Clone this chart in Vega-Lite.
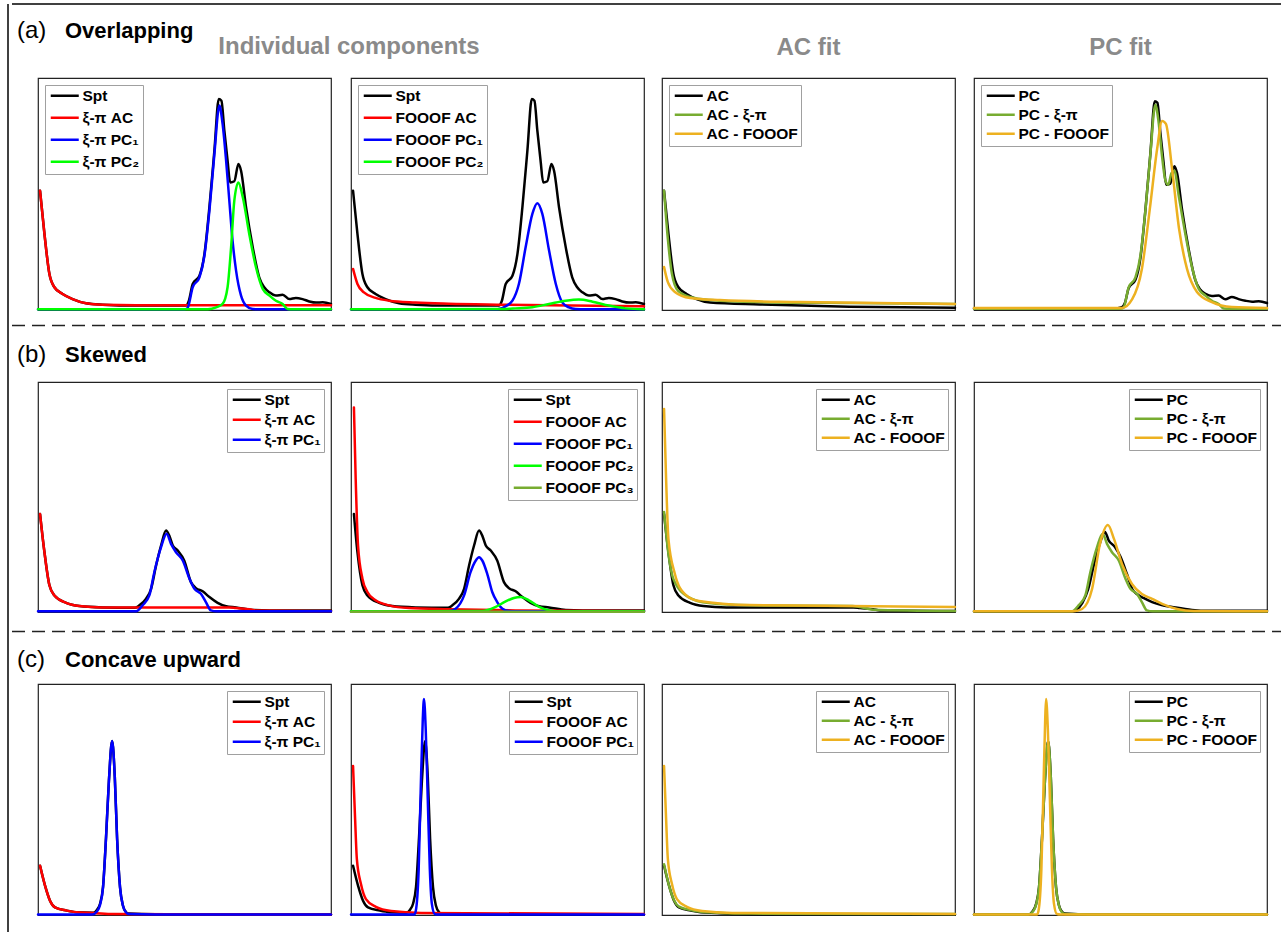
{
  "$schema": "https://vega.github.io/schema/vega-lite/v6.json",
  "background": "white",
  "padding": {"left": 7, "top": 3, "right": 0, "bottom": 0},
  "config": {
    "font": "Liberation Sans",
    "view": {"stroke": "#222222", "strokeWidth": 1.2},
    "title": {"font": "Liberation Sans", "fontSize": 22, "color": "#000000"},
    "line": {"strokeWidth": 2.5, "interpolate": "monotone", "strokeJoin": "round", "strokeCap": "round"},
    "rule": {"strokeCap": "butt"},
    "legend": {
      "title": null,
      "symbolType": "M-1,0H4.6",
      "symbolStrokeWidth": 2.5,
      "symbolSize": 100,
      "labelFont": "Liberation Sans",
      "labelFontWeight": "bold",
      "labelFontSize": 15.5,
      "labelColor": "#000000",
      "labelOffset": 19,
      "rowPadding": 2,
      "padding": 3,
      "strokeColor": "#a0a0a0",
      "fillColor": "white",
      "offset": 7
    }
  },
  "datasets": {
    "a1": [
      {"s":"Spt","x":0.7,"y":51.4},{"s":"Spt","x":2.2,"y":32.8},{"s":"Spt","x":3.9,"y":15.5},{"s":"Spt","x":5.6,"y":9.8},{"s":"Spt","x":8.4,"y":6.9},{"s":"Spt","x":11.8,"y":4.7},{"s":"Spt","x":16.4,"y":2.9},{"s":"Spt","x":22,"y":2.3},{"s":"Spt","x":33.4,"y":1.9},{"s":"Spt","x":50.5,"y":1.9},{"s":"Spt","x":51.5,"y":4},{"s":"Spt","x":52.8,"y":11.2},{"s":"Spt","x":55.1,"y":14.8},{"s":"Spt","x":56.8,"y":24.1},{"s":"Spt","x":58.5,"y":44.3},{"s":"Spt","x":60.2,"y":68.7},{"s":"Spt","x":61.7,"y":90.9},{"s":"Spt","x":62.6,"y":90.2},{"s":"Spt","x":63.6,"y":77.3},{"s":"Spt","x":64.7,"y":64.4},{"s":"Spt","x":65.6,"y":55},{"s":"Spt","x":67,"y":55.5},{"s":"Spt","x":68.4,"y":62.9},{"s":"Spt","x":69.3,"y":60},{"s":"Spt","x":71,"y":44.3},{"s":"Spt","x":73.3,"y":27},{"s":"Spt","x":75.5,"y":14.1},{"s":"Spt","x":77.2,"y":9.8},{"s":"Spt","x":79,"y":7.6},{"s":"Spt","x":81.2,"y":6.2},{"s":"Spt","x":83.5,"y":6.6},{"s":"Spt","x":85.8,"y":4.7},{"s":"Spt","x":88,"y":5.2},{"s":"Spt","x":90.3,"y":4.7},{"s":"Spt","x":92.6,"y":3.7},{"s":"Spt","x":94.9,"y":3.2},{"s":"Spt","x":97.2,"y":3.3},{"s":"Spt","x":100,"y":2.6},
      {"s":"ξ-π AC","x":0.7,"y":51.4},{"s":"ξ-π AC","x":2.2,"y":32.8},{"s":"ξ-π AC","x":3.9,"y":15.5},{"s":"ξ-π AC","x":5.6,"y":9.8},{"s":"ξ-π AC","x":8.4,"y":6.9},{"s":"ξ-π AC","x":11.8,"y":4.7},{"s":"ξ-π AC","x":16.4,"y":2.9},{"s":"ξ-π AC","x":22,"y":2.3},{"s":"ξ-π AC","x":33.4,"y":2.1},{"s":"ξ-π AC","x":60,"y":2.1},{"s":"ξ-π AC","x":100,"y":2.1},
      {"s":"ξ-π PC₁","x":0,"y":0.3},{"s":"ξ-π PC₁","x":50,"y":0.3},{"s":"ξ-π PC₁","x":51,"y":0.8},{"s":"ξ-π PC₁","x":52.8,"y":9.8},{"s":"ξ-π PC₁","x":55.1,"y":14.1},{"s":"ξ-π PC₁","x":56.8,"y":23.4},{"s":"ξ-π PC₁","x":58.5,"y":42.8},{"s":"ξ-π PC₁","x":60.2,"y":67.2},{"s":"ξ-π PC₁","x":61.9,"y":88.1},{"s":"ξ-π PC₁","x":63,"y":80.2},{"s":"ξ-π PC₁","x":64.2,"y":64.4},{"s":"ξ-π PC₁","x":65.3,"y":47.1},{"s":"ξ-π PC₁","x":66.4,"y":29.9},{"s":"ξ-π PC₁","x":67.6,"y":17},{"s":"ξ-π PC₁","x":69.3,"y":6.2},{"s":"ξ-π PC₁","x":71,"y":1.9},{"s":"ξ-π PC₁","x":73.3,"y":0.4},{"s":"ξ-π PC₁","x":76,"y":0.3},{"s":"ξ-π PC₁","x":100,"y":0.3},
      {"s":"ξ-π PC₂","x":0,"y":0.3},{"s":"ξ-π PC₂","x":58,"y":0.3},{"s":"ξ-π PC₂","x":60.8,"y":1.1},{"s":"ξ-π PC₂","x":63,"y":2.6},{"s":"ξ-π PC₂","x":64.7,"y":9.8},{"s":"ξ-π PC₂","x":65.9,"y":27},{"s":"ξ-π PC₂","x":67,"y":47.1},{"s":"ξ-π PC₂","x":68.4,"y":55},{"s":"ξ-π PC₂","x":69.9,"y":48.6},{"s":"ξ-π PC₂","x":72.1,"y":32.8},{"s":"ξ-π PC₂","x":74.4,"y":18.4},{"s":"ξ-π PC₂","x":76.7,"y":9.1},{"s":"ξ-π PC₂","x":79,"y":6.2},{"s":"ξ-π PC₂","x":81.2,"y":4},{"s":"ξ-π PC₂","x":83.5,"y":2.6},{"s":"ξ-π PC₂","x":85.2,"y":0.4},{"s":"ξ-π PC₂","x":87,"y":0.3},{"s":"ξ-π PC₂","x":100,"y":0.3}
    ],
    "a2": [
      {"s":"Spt","x":0.7,"y":51.4},{"s":"Spt","x":2.2,"y":32.8},{"s":"Spt","x":3.9,"y":15.5},{"s":"Spt","x":5.6,"y":9.8},{"s":"Spt","x":8.4,"y":6.9},{"s":"Spt","x":11.8,"y":4.7},{"s":"Spt","x":16.4,"y":2.9},{"s":"Spt","x":22,"y":2.3},{"s":"Spt","x":33.4,"y":1.9},{"s":"Spt","x":50.5,"y":1.9},{"s":"Spt","x":51.5,"y":4},{"s":"Spt","x":52.8,"y":11.2},{"s":"Spt","x":55.1,"y":14.8},{"s":"Spt","x":56.8,"y":24.1},{"s":"Spt","x":58.5,"y":44.3},{"s":"Spt","x":60.2,"y":68.7},{"s":"Spt","x":61.7,"y":90.9},{"s":"Spt","x":62.6,"y":90.2},{"s":"Spt","x":63.6,"y":77.3},{"s":"Spt","x":64.7,"y":64.4},{"s":"Spt","x":65.6,"y":55},{"s":"Spt","x":67,"y":55.5},{"s":"Spt","x":68.4,"y":62.9},{"s":"Spt","x":69.3,"y":60},{"s":"Spt","x":71,"y":44.3},{"s":"Spt","x":73.3,"y":27},{"s":"Spt","x":75.5,"y":14.1},{"s":"Spt","x":77.2,"y":9.8},{"s":"Spt","x":79,"y":7.6},{"s":"Spt","x":81.2,"y":6.2},{"s":"Spt","x":83.5,"y":6.6},{"s":"Spt","x":85.8,"y":4.7},{"s":"Spt","x":88,"y":5.2},{"s":"Spt","x":90.3,"y":4.7},{"s":"Spt","x":92.6,"y":3.7},{"s":"Spt","x":94.9,"y":3.2},{"s":"Spt","x":97.2,"y":3.3},{"s":"Spt","x":100,"y":2.6},
      {"s":"FOOOF AC","x":0.7,"y":17.7},{"s":"FOOOF AC","x":2.2,"y":11.2},{"s":"FOOOF AC","x":4.4,"y":7.6},{"s":"FOOOF AC","x":8.4,"y":5.2},{"s":"FOOOF AC","x":13,"y":4},{"s":"FOOOF AC","x":22,"y":3.2},{"s":"FOOOF AC","x":33.4,"y":2.7},{"s":"FOOOF AC","x":50.5,"y":2.3},{"s":"FOOOF AC","x":67.6,"y":2},{"s":"FOOOF AC","x":100,"y":1.6},
      {"s":"FOOOF PC₁","x":0,"y":0.3},{"s":"FOOOF PC₁","x":50,"y":0.3},{"s":"FOOOF PC₁","x":52.8,"y":1.6},{"s":"FOOOF PC₁","x":55.1,"y":4},{"s":"FOOOF PC₁","x":57.3,"y":11.2},{"s":"FOOOF PC₁","x":59.6,"y":27},{"s":"FOOOF PC₁","x":61.9,"y":41.4},{"s":"FOOOF PC₁","x":63.6,"y":46},{"s":"FOOOF PC₁","x":65.3,"y":41.4},{"s":"FOOOF PC₁","x":67.6,"y":25.6},{"s":"FOOOF PC₁","x":69.9,"y":11.2},{"s":"FOOOF PC₁","x":72.1,"y":3.3},{"s":"FOOOF PC₁","x":74.4,"y":1.1},{"s":"FOOOF PC₁","x":76.7,"y":0.4},{"s":"FOOOF PC₁","x":80,"y":0.3},{"s":"FOOOF PC₁","x":100,"y":0.3},
      {"s":"FOOOF PC₂","x":0,"y":0.3},{"s":"FOOOF PC₂","x":50,"y":0.4},{"s":"FOOOF PC₂","x":56,"y":0.7},{"s":"FOOOF PC₂","x":61.9,"y":1.2},{"s":"FOOOF PC₂","x":67.6,"y":2.6},{"s":"FOOOF PC₂","x":73.3,"y":4},{"s":"FOOOF PC₂","x":77.8,"y":4.5},{"s":"FOOOF PC₂","x":82.4,"y":3.6},{"s":"FOOOF PC₂","x":88,"y":1.9},{"s":"FOOOF PC₂","x":93.7,"y":0.7},{"s":"FOOOF PC₂","x":100,"y":0.3}
    ],
    "a3": [
      {"s":"AC","x":0.7,"y":51.4},{"s":"AC","x":2.2,"y":32.8},{"s":"AC","x":3.9,"y":15.5},{"s":"AC","x":5.6,"y":9.8},{"s":"AC","x":8.4,"y":6.9},{"s":"AC","x":11.8,"y":4.7},{"s":"AC","x":16.4,"y":3.2},{"s":"AC","x":33.4,"y":2.4},{"s":"AC","x":64,"y":1.4},{"s":"AC","x":100,"y":1},
      {"s":"AC - ξ-π","x":0.7,"y":51.4},{"s":"AC - ξ-π","x":2,"y":30.6},{"s":"AC - ξ-π","x":3.4,"y":15.5},{"s":"AC - ξ-π","x":5.5,"y":8.2},{"s":"AC - ξ-π","x":9.6,"y":5.6},{"s":"AC - ξ-π","x":16.4,"y":4.3},{"s":"AC - ξ-π","x":33.4,"y":3.4},{"s":"AC - ξ-π","x":64,"y":3},{"s":"AC - ξ-π","x":100,"y":2.6},
      {"s":"AC - FOOOF","x":0.7,"y":18.5},{"s":"AC - FOOOF","x":2,"y":12},{"s":"AC - FOOOF","x":4.4,"y":7.8},{"s":"AC - FOOOF","x":9.6,"y":5.2},{"s":"AC - FOOOF","x":19.8,"y":4.3},{"s":"AC - FOOOF","x":47,"y":3.4},{"s":"AC - FOOOF","x":100,"y":2.6}
    ],
    "a4": [
      {"s":"PC","x":0,"y":0.8},{"s":"PC","x":49,"y":0.8},{"s":"PC","x":50.5,"y":1.2},{"s":"PC","x":51.5,"y":3},{"s":"PC","x":52.8,"y":9.5},{"s":"PC","x":55.1,"y":13},{"s":"PC","x":56.8,"y":22.5},{"s":"PC","x":58.5,"y":43},{"s":"PC","x":60.2,"y":67.5},{"s":"PC","x":61.7,"y":90},{"s":"PC","x":62.6,"y":89.3},{"s":"PC","x":63.6,"y":76.5},{"s":"PC","x":64.7,"y":63.5},{"s":"PC","x":65.6,"y":54},{"s":"PC","x":67,"y":54.5},{"s":"PC","x":68.4,"y":62},{"s":"PC","x":69.3,"y":59},{"s":"PC","x":71,"y":43.3},{"s":"PC","x":73.3,"y":26},{"s":"PC","x":75.5,"y":13},{"s":"PC","x":77.2,"y":8.8},{"s":"PC","x":79,"y":7},{"s":"PC","x":81.2,"y":6},{"s":"PC","x":83.5,"y":6.2},{"s":"PC","x":85.8,"y":4.6},{"s":"PC","x":88,"y":5.6},{"s":"PC","x":90.3,"y":4.7},{"s":"PC","x":92.6,"y":4},{"s":"PC","x":94.9,"y":3.6},{"s":"PC","x":97.2,"y":3.8},{"s":"PC","x":100,"y":3},
      {"s":"PC - ξ-π","x":0,"y":0.5},{"s":"PC - ξ-π","x":50,"y":0.5},{"s":"PC - ξ-π","x":51,"y":1},{"s":"PC - ξ-π","x":52.8,"y":9.8},{"s":"PC - ξ-π","x":55.1,"y":14.1},{"s":"PC - ξ-π","x":56.8,"y":23.4},{"s":"PC - ξ-π","x":58.5,"y":42.8},{"s":"PC - ξ-π","x":60.2,"y":67.2},{"s":"PC - ξ-π","x":61.9,"y":88.5},{"s":"PC - ξ-π","x":63,"y":81},{"s":"PC - ξ-π","x":64.2,"y":66},{"s":"PC - ξ-π","x":65.3,"y":56},{"s":"PC - ξ-π","x":66.3,"y":54},{"s":"PC - ξ-π","x":67.4,"y":59},{"s":"PC - ξ-π","x":68.4,"y":60},{"s":"PC - ξ-π","x":69.9,"y":49},{"s":"PC - ξ-π","x":72.1,"y":33},{"s":"PC - ξ-π","x":74.4,"y":18.5},{"s":"PC - ξ-π","x":76.7,"y":9.1},{"s":"PC - ξ-π","x":79,"y":6.2},{"s":"PC - ξ-π","x":81.2,"y":4},{"s":"PC - ξ-π","x":83.5,"y":2.6},{"s":"PC - ξ-π","x":85.2,"y":0.6},{"s":"PC - ξ-π","x":87,"y":0.5},{"s":"PC - ξ-π","x":100,"y":0.5},
      {"s":"PC - FOOOF","x":0,"y":0.9},{"s":"PC - FOOOF","x":50.5,"y":0.9},{"s":"PC - FOOOF","x":54,"y":4.7},{"s":"PC - FOOOF","x":57.3,"y":17.7},{"s":"PC - FOOOF","x":60,"y":43.5},{"s":"PC - FOOOF","x":62.5,"y":69.4},{"s":"PC - FOOOF","x":64.2,"y":81.5},{"s":"PC - FOOOF","x":65.5,"y":80.2},{"s":"PC - FOOOF","x":67.6,"y":60.8},{"s":"PC - FOOOF","x":70,"y":34.9},{"s":"PC - FOOOF","x":72.7,"y":17.7},{"s":"PC - FOOOF","x":76.1,"y":7.8},{"s":"PC - FOOOF","x":81.2,"y":3.4},{"s":"PC - FOOOF","x":88,"y":1.3},{"s":"PC - FOOOF","x":100,"y":0.9}
    ],
    "b1": [
      {"s":"Spt","x":0.7,"y":42.6},{"s":"Spt","x":2.2,"y":26},{"s":"Spt","x":3.9,"y":11.6},{"s":"Spt","x":5.6,"y":7.2},{"s":"Spt","x":9.6,"y":4},{"s":"Spt","x":14.1,"y":2.6},{"s":"Spt","x":22,"y":2},{"s":"Spt","x":33,"y":1.8},{"s":"Spt","x":34.6,"y":2.9},{"s":"Spt","x":36.9,"y":5.8},{"s":"Spt","x":38.6,"y":10.1},{"s":"Spt","x":40.3,"y":20.2},{"s":"Spt","x":42,"y":28.9},{"s":"Spt","x":43.7,"y":35.4},{"s":"Spt","x":44.8,"y":33.2},{"s":"Spt","x":46,"y":28.9},{"s":"Spt","x":47.7,"y":26.7},{"s":"Spt","x":49.9,"y":22.4},{"s":"Spt","x":52.2,"y":13},{"s":"Spt","x":53.9,"y":10.4},{"s":"Spt","x":56.2,"y":9},{"s":"Spt","x":58.5,"y":6.5},{"s":"Spt","x":61.3,"y":4},{"s":"Spt","x":64.2,"y":2.5},{"s":"Spt","x":67.6,"y":2},{"s":"Spt","x":73.3,"y":0.9},{"s":"Spt","x":79,"y":0.7},{"s":"Spt","x":100,"y":0.7},
      {"s":"ξ-π AC","x":0.7,"y":42.6},{"s":"ξ-π AC","x":2.2,"y":26},{"s":"ξ-π AC","x":3.9,"y":11.6},{"s":"ξ-π AC","x":5.6,"y":7.2},{"s":"ξ-π AC","x":9.6,"y":4},{"s":"ξ-π AC","x":14.1,"y":2.6},{"s":"ξ-π AC","x":22,"y":2},{"s":"ξ-π AC","x":33.4,"y":2},{"s":"ξ-π AC","x":65.3,"y":2},{"s":"ξ-π AC","x":67.6,"y":1.7},{"s":"ξ-π AC","x":72.1,"y":1.2},{"s":"ξ-π AC","x":74.4,"y":0.7},{"s":"ξ-π AC","x":100,"y":0.4},
      {"s":"ξ-π PC₁","x":0,"y":0.3},{"s":"ξ-π PC₁","x":33.5,"y":0.3},{"s":"ξ-π PC₁","x":34.2,"y":0.8},{"s":"ξ-π PC₁","x":35.7,"y":2.9},{"s":"ξ-π PC₁","x":38,"y":7.2},{"s":"ξ-π PC₁","x":39.7,"y":17.3},{"s":"ξ-π PC₁","x":42,"y":28.2},{"s":"ξ-π PC₁","x":43.9,"y":34},{"s":"ξ-π PC₁","x":45.4,"y":29.6},{"s":"ξ-π PC₁","x":47.1,"y":26},{"s":"ξ-π PC₁","x":49.4,"y":22.4},{"s":"ξ-π PC₁","x":51.7,"y":14.5},{"s":"ξ-π PC₁","x":53.4,"y":10.1},{"s":"ξ-π PC₁","x":55.6,"y":7.9},{"s":"ξ-π PC₁","x":57.3,"y":4.3},{"s":"ξ-π PC₁","x":59,"y":0.7},{"s":"ξ-π PC₁","x":61,"y":0.3},{"s":"ξ-π PC₁","x":100,"y":0.3}
    ],
    "b2": [
      {"s":"Spt","x":1,"y":42.6},{"s":"Spt","x":2.2,"y":26},{"s":"Spt","x":3.9,"y":11.6},{"s":"Spt","x":5.6,"y":7.2},{"s":"Spt","x":9.6,"y":4},{"s":"Spt","x":14.1,"y":2.6},{"s":"Spt","x":22,"y":2},{"s":"Spt","x":33,"y":1.8},{"s":"Spt","x":34.6,"y":2.9},{"s":"Spt","x":36.9,"y":5.8},{"s":"Spt","x":38.6,"y":10.1},{"s":"Spt","x":40.3,"y":20.2},{"s":"Spt","x":42,"y":28.9},{"s":"Spt","x":43.7,"y":35.4},{"s":"Spt","x":44.8,"y":33.2},{"s":"Spt","x":46,"y":28.9},{"s":"Spt","x":47.7,"y":26.7},{"s":"Spt","x":49.9,"y":22.4},{"s":"Spt","x":52.2,"y":13},{"s":"Spt","x":53.9,"y":10.4},{"s":"Spt","x":56.2,"y":9},{"s":"Spt","x":58.5,"y":6.5},{"s":"Spt","x":61.3,"y":4},{"s":"Spt","x":64.2,"y":2.5},{"s":"Spt","x":67.6,"y":2},{"s":"Spt","x":73.3,"y":0.9},{"s":"Spt","x":79,"y":0.7},{"s":"Spt","x":100,"y":0.7},
      {"s":"FOOOF AC","x":1,"y":88.9},{"s":"FOOOF AC","x":1.6,"y":57.8},{"s":"FOOOF AC","x":2.4,"y":28.9},{"s":"FOOOF AC","x":3.9,"y":14.5},{"s":"FOOOF AC","x":5.6,"y":8.7},{"s":"FOOOF AC","x":8.4,"y":5.1},{"s":"FOOOF AC","x":13,"y":2.9},{"s":"FOOOF AC","x":19.8,"y":1.7},{"s":"FOOOF AC","x":33.4,"y":1.2},{"s":"FOOOF AC","x":56.2,"y":0.7},{"s":"FOOOF AC","x":100,"y":0.4},
      {"s":"FOOOF PC₁","x":0,"y":0.3},{"s":"FOOOF PC₁","x":33.4,"y":0.3},{"s":"FOOOF PC₁","x":35.7,"y":1.4},{"s":"FOOOF PC₁","x":38.6,"y":7.2},{"s":"FOOOF PC₁","x":40.8,"y":17.3},{"s":"FOOOF PC₁","x":42.6,"y":22.4},{"s":"FOOOF PC₁","x":43.7,"y":23.8},{"s":"FOOOF PC₁","x":44.8,"y":22.4},{"s":"FOOOF PC₁","x":46.5,"y":16.6},{"s":"FOOOF PC₁","x":48.2,"y":8.7},{"s":"FOOOF PC₁","x":49.9,"y":4.3},{"s":"FOOOF PC₁","x":51.7,"y":1.4},{"s":"FOOOF PC₁","x":53.9,"y":0.4},{"s":"FOOOF PC₁","x":56,"y":0.3},{"s":"FOOOF PC₁","x":100,"y":0.3},
      {"s":"FOOOF PC₂","x":0,"y":0.3},{"s":"FOOOF PC₂","x":44.8,"y":0.4},{"s":"FOOOF PC₂","x":49.4,"y":2.2},{"s":"FOOOF PC₂","x":52.8,"y":4.6},{"s":"FOOOF PC₂","x":55.6,"y":6.1},{"s":"FOOOF PC₂","x":57.9,"y":6.5},{"s":"FOOOF PC₂","x":60.7,"y":5.1},{"s":"FOOOF PC₂","x":64.2,"y":2.2},{"s":"FOOOF PC₂","x":67.6,"y":0.7},{"s":"FOOOF PC₂","x":71,"y":0.3},{"s":"FOOOF PC₂","x":100,"y":0.3},
      {"s":"FOOOF PC₃","x":0,"y":0.1},{"s":"FOOOF PC₃","x":50,"y":0.1},{"s":"FOOOF PC₃","x":100,"y":0.1}
    ],
    "b3": [
      {"s":"AC","x":0.7,"y":42.6},{"s":"AC","x":2.2,"y":26},{"s":"AC","x":3.9,"y":11.6},{"s":"AC","x":5.6,"y":7.2},{"s":"AC","x":9.6,"y":4},{"s":"AC","x":14.1,"y":2.6},{"s":"AC","x":22,"y":2},{"s":"AC","x":33.4,"y":2},{"s":"AC","x":65.3,"y":2},{"s":"AC","x":67.6,"y":1.7},{"s":"AC","x":72.1,"y":1.2},{"s":"AC","x":74.4,"y":0.7},{"s":"AC","x":100,"y":0.4},
      {"s":"AC - ξ-π","x":0.7,"y":43.5},{"s":"AC - ξ-π","x":2.2,"y":25.2},{"s":"AC - ξ-π","x":3.9,"y":14.3},{"s":"AC - ξ-π","x":9,"y":6.5},{"s":"AC - ξ-π","x":16,"y":3.9},{"s":"AC - ξ-π","x":30,"y":2.9},{"s":"AC - ξ-π","x":65,"y":2.6},{"s":"AC - ξ-π","x":67.6,"y":2.2},{"s":"AC - ξ-π","x":72,"y":1},{"s":"AC - ξ-π","x":100,"y":0.4},
      {"s":"AC - FOOOF","x":0.7,"y":88.3},{"s":"AC - FOOOF","x":1.4,"y":57.8},{"s":"AC - FOOOF","x":2.2,"y":31.7},{"s":"AC - FOOOF","x":4.4,"y":16.5},{"s":"AC - FOOOF","x":7.8,"y":7.8},{"s":"AC - FOOOF","x":12.6,"y":4.8},{"s":"AC - FOOOF","x":29.7,"y":3},{"s":"AC - FOOOF","x":63.8,"y":2.6},{"s":"AC - FOOOF","x":100,"y":2.2}
    ],
    "b4": [
      {"s":"PC","x":0,"y":0.3},{"s":"PC","x":34,"y":0.3},{"s":"PC","x":35,"y":1},{"s":"PC","x":37,"y":4},{"s":"PC","x":39,"y":10},{"s":"PC","x":41,"y":21},{"s":"PC","x":43,"y":30},{"s":"PC","x":44.7,"y":34.8},{"s":"PC","x":46,"y":31},{"s":"PC","x":48.1,"y":28.3},{"s":"PC","x":50,"y":24},{"s":"PC","x":52.2,"y":16.5},{"s":"PC","x":54,"y":10},{"s":"PC","x":55.6,"y":7.8},{"s":"PC","x":58,"y":6},{"s":"PC","x":60.8,"y":4.3},{"s":"PC","x":64,"y":3},{"s":"PC","x":67.6,"y":2.2},{"s":"PC","x":74.4,"y":0.9},{"s":"PC","x":80,"y":0.5},{"s":"PC","x":100,"y":0.5},
      {"s":"PC - ξ-π","x":0,"y":0.3},{"s":"PC - ξ-π","x":33.5,"y":0.3},{"s":"PC - ξ-π","x":34.2,"y":0.8},{"s":"PC - ξ-π","x":35.7,"y":2.9},{"s":"PC - ξ-π","x":38,"y":7.2},{"s":"PC - ξ-π","x":39.7,"y":17.3},{"s":"PC - ξ-π","x":42,"y":28.2},{"s":"PC - ξ-π","x":43.9,"y":34},{"s":"PC - ξ-π","x":45.4,"y":29.6},{"s":"PC - ξ-π","x":47.1,"y":26},{"s":"PC - ξ-π","x":49.4,"y":22.4},{"s":"PC - ξ-π","x":51.7,"y":14.5},{"s":"PC - ξ-π","x":53.4,"y":10.1},{"s":"PC - ξ-π","x":55.6,"y":7.9},{"s":"PC - ξ-π","x":57.3,"y":4.3},{"s":"PC - ξ-π","x":59,"y":0.7},{"s":"PC - ξ-π","x":61,"y":0.3},{"s":"PC - ξ-π","x":100,"y":0.3},
      {"s":"PC - FOOOF","x":0,"y":0.3},{"s":"PC - FOOOF","x":34,"y":0.3},{"s":"PC - FOOOF","x":36.9,"y":1.3},{"s":"PC - FOOOF","x":40.3,"y":10},{"s":"PC - FOOOF","x":43,"y":29.6},{"s":"PC - FOOOF","x":45.7,"y":37.8},{"s":"PC - FOOOF","x":47.8,"y":31.7},{"s":"PC - FOOOF","x":50.5,"y":20.9},{"s":"PC - FOOOF","x":53.9,"y":12.2},{"s":"PC - FOOOF","x":57.3,"y":7.8},{"s":"PC - FOOOF","x":60.8,"y":5.7},{"s":"PC - FOOOF","x":64.2,"y":3.5},{"s":"PC - FOOOF","x":69.3,"y":1.3},{"s":"PC - FOOOF","x":75,"y":0.4},{"s":"PC - FOOOF","x":100,"y":0.3}
    ],
    "c1": [
      {"s":"Spt","x":0.7,"y":21.3},{"s":"Spt","x":2.4,"y":12.7},{"s":"Spt","x":4.1,"y":6.2},{"s":"Spt","x":5.8,"y":3.3},{"s":"Spt","x":9.8,"y":1.9},{"s":"Spt","x":13.2,"y":1.2},{"s":"Spt","x":18.9,"y":1},{"s":"Spt","x":20.1,"y":2.2},{"s":"Spt","x":21.2,"y":5},{"s":"Spt","x":22.2,"y":12.3},{"s":"Spt","x":23.2,"y":33.2},{"s":"Spt","x":24.2,"y":58},{"s":"Spt","x":25.3,"y":75.3},{"s":"Spt","x":26.2,"y":60},{"s":"Spt","x":27,"y":33},{"s":"Spt","x":28,"y":12},{"s":"Spt","x":29,"y":4},{"s":"Spt","x":30,"y":1.3},{"s":"Spt","x":31,"y":0.6},{"s":"Spt","x":40,"y":0.3},{"s":"Spt","x":100,"y":0.2},
      {"s":"ξ-π AC","x":0.7,"y":21.3},{"s":"ξ-π AC","x":2.4,"y":12.7},{"s":"ξ-π AC","x":4.1,"y":6.2},{"s":"ξ-π AC","x":5.8,"y":3.3},{"s":"ξ-π AC","x":9.8,"y":1.9},{"s":"ξ-π AC","x":13.2,"y":1.2},{"s":"ξ-π AC","x":18.9,"y":0.9},{"s":"ξ-π AC","x":25.7,"y":0.4},{"s":"ξ-π AC","x":100,"y":0.2},
      {"s":"ξ-π PC₁","x":0,"y":0.2},{"s":"ξ-π PC₁","x":18.5,"y":0.2},{"s":"ξ-π PC₁","x":20.1,"y":1.5},{"s":"ξ-π PC₁","x":21.2,"y":4.5},{"s":"ξ-π PC₁","x":22.2,"y":12},{"s":"ξ-π PC₁","x":23.2,"y":33},{"s":"ξ-π PC₁","x":24.2,"y":58},{"s":"ξ-π PC₁","x":25.3,"y":75.3},{"s":"ξ-π PC₁","x":26.2,"y":60},{"s":"ξ-π PC₁","x":27,"y":33},{"s":"ξ-π PC₁","x":28,"y":12},{"s":"ξ-π PC₁","x":29,"y":4},{"s":"ξ-π PC₁","x":30,"y":1.2},{"s":"ξ-π PC₁","x":31,"y":0.4},{"s":"ξ-π PC₁","x":40,"y":0.2},{"s":"ξ-π PC₁","x":100,"y":0.2}
    ],
    "c2": [
      {"s":"Spt","x":0.7,"y":21.3},{"s":"Spt","x":2.4,"y":12.7},{"s":"Spt","x":4.1,"y":6.2},{"s":"Spt","x":5.8,"y":3.3},{"s":"Spt","x":9.8,"y":1.9},{"s":"Spt","x":13.2,"y":1.2},{"s":"Spt","x":18.9,"y":1},{"s":"Spt","x":20.1,"y":2.2},{"s":"Spt","x":21.2,"y":5},{"s":"Spt","x":22.2,"y":12.3},{"s":"Spt","x":23.2,"y":33.2},{"s":"Spt","x":24.2,"y":58},{"s":"Spt","x":25.3,"y":75.3},{"s":"Spt","x":26.2,"y":60},{"s":"Spt","x":27,"y":33},{"s":"Spt","x":28,"y":12},{"s":"Spt","x":29,"y":4},{"s":"Spt","x":30,"y":1.3},{"s":"Spt","x":31,"y":0.6},{"s":"Spt","x":40,"y":0.3},{"s":"Spt","x":100,"y":0.2},
      {"s":"FOOOF AC","x":0.7,"y":64.5},{"s":"FOOOF AC","x":1.4,"y":41.6},{"s":"FOOOF AC","x":2,"y":24.2},{"s":"FOOOF AC","x":3.4,"y":13.4},{"s":"FOOOF AC","x":5.1,"y":6.9},{"s":"FOOOF AC","x":8.5,"y":3.5},{"s":"FOOOF AC","x":13.7,"y":1.7},{"s":"FOOOF AC","x":23.9,"y":0.9},{"s":"FOOOF AC","x":100,"y":0.4},
      {"s":"FOOOF PC₁","x":0,"y":0.2},{"s":"FOOOF PC₁","x":21.6,"y":0.2},{"s":"FOOOF PC₁","x":22.1,"y":1.7},{"s":"FOOOF PC₁","x":23.1,"y":19.9},{"s":"FOOOF PC₁","x":23.8,"y":54.5},{"s":"FOOOF PC₁","x":24.5,"y":84.8},{"s":"FOOOF PC₁","x":24.9,"y":93.5},{"s":"FOOOF PC₁","x":25.5,"y":80.5},{"s":"FOOOF PC₁","x":26.2,"y":50.2},{"s":"FOOOF PC₁","x":26.9,"y":19.9},{"s":"FOOOF PC₁","x":27.6,"y":4.8},{"s":"FOOOF PC₁","x":28.6,"y":0.4},{"s":"FOOOF PC₁","x":29.6,"y":0.2},{"s":"FOOOF PC₁","x":100,"y":0.2}
    ],
    "c3": [
      {"s":"AC","x":0.7,"y":21.3},{"s":"AC","x":2.4,"y":12.7},{"s":"AC","x":4.1,"y":6.2},{"s":"AC","x":5.8,"y":3.3},{"s":"AC","x":9.8,"y":1.9},{"s":"AC","x":13.2,"y":1.2},{"s":"AC","x":18.9,"y":0.9},{"s":"AC","x":25.7,"y":0.4},{"s":"AC","x":100,"y":0.2},
      {"s":"AC - ξ-π","x":0.7,"y":22},{"s":"AC - ξ-π","x":2.4,"y":12.7},{"s":"AC - ξ-π","x":4.1,"y":6.4},{"s":"AC - ξ-π","x":5.8,"y":3.6},{"s":"AC - ξ-π","x":9.8,"y":2.1},{"s":"AC - ξ-π","x":13.2,"y":1.4},{"s":"AC - ξ-π","x":18.9,"y":1},{"s":"AC - ξ-π","x":30,"y":0.6},{"s":"AC - ξ-π","x":100,"y":0.4},
      {"s":"AC - FOOOF","x":0.7,"y":64.5},{"s":"AC - FOOOF","x":1.4,"y":41.6},{"s":"AC - FOOOF","x":2,"y":24.2},{"s":"AC - FOOOF","x":3.4,"y":13.4},{"s":"AC - FOOOF","x":5.1,"y":6.9},{"s":"AC - FOOOF","x":8.5,"y":3.5},{"s":"AC - FOOOF","x":13.7,"y":1.7},{"s":"AC - FOOOF","x":23.9,"y":0.9},{"s":"AC - FOOOF","x":100,"y":0.4}
    ],
    "c4": [
      {"s":"PC","x":0,"y":0.2},{"s":"PC","x":18.5,"y":0.2},{"s":"PC","x":20.1,"y":1.8},{"s":"PC","x":21.2,"y":4.8},{"s":"PC","x":22.2,"y":12.2},{"s":"PC","x":23.2,"y":33},{"s":"PC","x":24.2,"y":58},{"s":"PC","x":25.3,"y":75.3},{"s":"PC","x":26.2,"y":60},{"s":"PC","x":27,"y":33},{"s":"PC","x":28,"y":12},{"s":"PC","x":29,"y":4.2},{"s":"PC","x":30,"y":1.5},{"s":"PC","x":31,"y":0.6},{"s":"PC","x":40,"y":0.2},{"s":"PC","x":100,"y":0.2},
      {"s":"PC - ξ-π","x":0,"y":0.2},{"s":"PC - ξ-π","x":18.5,"y":0.2},{"s":"PC - ξ-π","x":20.1,"y":1.5},{"s":"PC - ξ-π","x":21.2,"y":4.5},{"s":"PC - ξ-π","x":22.2,"y":12},{"s":"PC - ξ-π","x":23.2,"y":33},{"s":"PC - ξ-π","x":24.2,"y":58},{"s":"PC - ξ-π","x":25.3,"y":75.3},{"s":"PC - ξ-π","x":26.2,"y":60},{"s":"PC - ξ-π","x":27,"y":33},{"s":"PC - ξ-π","x":28,"y":12},{"s":"PC - ξ-π","x":29,"y":4},{"s":"PC - ξ-π","x":30,"y":1.2},{"s":"PC - ξ-π","x":31,"y":0.4},{"s":"PC - ξ-π","x":40,"y":0.2},{"s":"PC - ξ-π","x":100,"y":0.2},
      {"s":"PC - FOOOF","x":0,"y":0.2},{"s":"PC - FOOOF","x":21.5,"y":0.2},{"s":"PC - FOOOF","x":22,"y":1.7},{"s":"PC - FOOOF","x":23,"y":19.9},{"s":"PC - FOOOF","x":23.7,"y":54.5},{"s":"PC - FOOOF","x":24.3,"y":84.8},{"s":"PC - FOOOF","x":24.6,"y":93.5},{"s":"PC - FOOOF","x":25.2,"y":80.5},{"s":"PC - FOOOF","x":25.9,"y":50.2},{"s":"PC - FOOOF","x":26.6,"y":19.9},{"s":"PC - FOOOF","x":27.3,"y":4.8},{"s":"PC - FOOOF","x":28.3,"y":0.4},{"s":"PC - FOOOF","x":29.5,"y":0.2},{"s":"PC - FOOOF","x":100,"y":0.2}
    ],
    "rule1": [{"a": 0, "b": 1, "c": 0.566}],
    "rule2": [{"a": 0, "b": 1, "c": 0.488}],
    "top": [{"a": 0, "b": 1, "c": 1}],
    "left": [{"a": 0, "b": 1, "c": 0}],
    "none": []
  },
  "hconcat": [
    {
      "width": 1, "height": 929, "view": {"stroke": null},
      "data": {"name": "left"},
      "mark": {"type": "rule", "color": "#000000", "strokeWidth": 1.5},
      "encoding": {
        "x": {"field": "c", "type": "quantitative", "scale": {"domain": [0, 1]}, "axis": null},
        "y": {"field": "a", "type": "quantitative", "scale": {"domain": [0, 1]}, "axis": null},
        "y2": {"field": "b"}
      }
    },
    {
      "spacing": 0,
      "resolve": {"scale": {"color": "independent", "x": "independent", "y": "independent"}, "legend": {"color": "independent"}},
      "vconcat": [
        {
          "width": 1271, "height": 15, "view": {"stroke": null},
          "data": {"name": "top"},
          "mark": {"type": "rule", "color": "#000000", "strokeWidth": 1.5},
          "encoding": {
            "x": {"field": "a", "type": "quantitative", "scale": {"domain": [0, 1]}, "axis": null},
            "x2": {"field": "b"},
            "y": {"field": "c", "type": "quantitative", "scale": {"domain": [0, 1]}, "axis": null}
          }
        },
        {
          "title": {"text": "(a)", "anchor": "start", "fontWeight": "normal", "fontSize": 24, "dx": 5, "dy": 27},
          "resolve": {"scale": {"color": "independent", "x": "independent", "y": "independent"}, "legend": {"color": "independent"}},
          "vconcat": [
            {
              "title": {"text": "Overlapping", "anchor": "start", "fontWeight": "bold", "dx": 53, "offset": -8},
              "spacing": 15,
              "resolve": {"scale": {"color": "independent", "x": "independent", "y": "independent"}, "legend": {"color": "independent"}},
              "hconcat": [
                {"width": 9, "height": 10, "view": {"stroke": null}, "data": {"name": "none"}, "mark": "point"},
                {
                  "title": {"text": "Individual components", "anchor": "middle", "color": "#8a8a8a", "fontWeight": "bold", "fontSize": 24, "dx": 8, "offset": 18},
                  "spacing": 16,
                  "resolve": {"scale": {"color": "independent", "x": "independent", "y": "independent"}, "legend": {"color": "independent"}},
                  "hconcat": [
                    {
                      "width": 293, "height": 232, "data": {"name": "a1"}, "mark": "line",
                      "encoding": {
                        "x": {"field": "x", "type": "quantitative", "scale": {"domain": [0, 100]}, "axis": null},
                        "y": {"field": "y", "type": "quantitative", "scale": {"domain": [0, 100]}, "axis": null},
                        "color": {"field": "s", "type": "nominal", "scale": {"domain": ["Spt", "ξ-π AC", "ξ-π PC₁", "ξ-π PC₂"], "range": ["#000000", "#ff0000", "#0000ff", "#00ff00"]}, "legend": {"orient": "top-left", "rowPadding": 5}}
                      }
                    },
                    {
                      "width": 293, "height": 232, "data": {"name": "a2"}, "mark": "line",
                      "encoding": {
                        "x": {"field": "x", "type": "quantitative", "scale": {"domain": [0, 100]}, "axis": null},
                        "y": {"field": "y", "type": "quantitative", "scale": {"domain": [0, 100]}, "axis": null},
                        "color": {"field": "s", "type": "nominal", "scale": {"domain": ["Spt", "FOOOF AC", "FOOOF PC₁", "FOOOF PC₂"], "range": ["#000000", "#ff0000", "#0000ff", "#00ff00"]}, "legend": {"orient": "top-left", "rowPadding": 5}}
                      }
                    }
                  ]
                },
                {
                  "title": {"text": "AC fit", "anchor": "middle", "frame": "group", "color": "#8a8a8a", "fontWeight": "bold", "fontSize": 24, "offset": 18},
                  "width": 293, "height": 232, "data": {"name": "a3"}, "mark": "line",
                  "encoding": {
                    "x": {"field": "x", "type": "quantitative", "scale": {"domain": [0, 100]}, "axis": null},
                    "y": {"field": "y", "type": "quantitative", "scale": {"domain": [0, 100]}, "axis": null},
                    "color": {"field": "s", "type": "nominal", "scale": {"domain": ["AC", "AC - ξ-π", "AC - FOOOF"], "range": ["#000000", "#77ac30", "#edb120"]}, "legend": {"orient": "top-left"}}
                  }
                },
                {
                  "title": {"text": "PC fit", "anchor": "middle", "frame": "group", "color": "#8a8a8a", "fontWeight": "bold", "fontSize": 24, "offset": 18},
                  "width": 293, "height": 232, "data": {"name": "a4"}, "mark": "line",
                  "encoding": {
                    "x": {"field": "x", "type": "quantitative", "scale": {"domain": [0, 100]}, "axis": null},
                    "y": {"field": "y", "type": "quantitative", "scale": {"domain": [0, 100]}, "axis": null},
                    "color": {"field": "s", "type": "nominal", "scale": {"domain": ["PC", "PC - ξ-π", "PC - FOOOF"], "range": ["#000000", "#77ac30", "#edb120"]}, "legend": {"orient": "top-left"}}
                  }
                }
              ]
            }
          ]
        },
        {
          "width": 1271, "height": 31, "view": {"stroke": null},
          "data": {"name": "rule1"},
          "mark": {"type": "rule", "color": "#222222", "strokeWidth": 1.5, "strokeDash": [13, 7]},
          "encoding": {
            "x": {"field": "a", "type": "quantitative", "scale": {"domain": [0, 1]}, "axis": null},
            "x2": {"field": "b"},
            "y": {"field": "c", "type": "quantitative", "scale": {"domain": [0, 1]}, "axis": null}
          }
        },
        {
          "title": {"text": "(b)", "anchor": "start", "fontWeight": "normal", "fontSize": 24, "dx": 5, "dy": 27},
          "resolve": {"scale": {"color": "independent", "x": "independent", "y": "independent"}, "legend": {"color": "independent"}},
          "vconcat": [
            {
              "title": {"text": "Skewed", "anchor": "start", "fontWeight": "bold", "dx": 53, "offset": 14},
              "spacing": 15,
              "resolve": {"scale": {"color": "independent", "x": "independent", "y": "independent"}, "legend": {"color": "independent"}},
              "hconcat": [
                {"width": 9, "height": 10, "view": {"stroke": null}, "data": {"name": "none"}, "mark": "point"},
                {
                  "spacing": 16,
                  "resolve": {"scale": {"color": "independent", "x": "independent", "y": "independent"}, "legend": {"color": "independent"}},
                  "hconcat": [
                    {
                      "width": 293, "height": 230, "data": {"name": "b1"}, "mark": "line",
                      "encoding": {
                        "x": {"field": "x", "type": "quantitative", "scale": {"domain": [0, 100]}, "axis": null},
                        "y": {"field": "y", "type": "quantitative", "scale": {"domain": [0, 100]}, "axis": null},
                        "color": {"field": "s", "type": "nominal", "scale": {"domain": ["Spt", "ξ-π AC", "ξ-π PC₁"], "range": ["#000000", "#ff0000", "#0000ff"]}, "legend": {"orient": "top-right", "rowPadding": 3}}
                      }
                    },
                    {
                      "width": 293, "height": 230, "data": {"name": "b2"}, "mark": "line",
                      "encoding": {
                        "x": {"field": "x", "type": "quantitative", "scale": {"domain": [0, 100]}, "axis": null},
                        "y": {"field": "y", "type": "quantitative", "scale": {"domain": [0, 100]}, "axis": null},
                        "color": {"field": "s", "type": "nominal", "scale": {"domain": ["Spt", "FOOOF AC", "FOOOF PC₁", "FOOOF PC₂", "FOOOF PC₃"], "range": ["#000000", "#ff0000", "#0000ff", "#00ff00", "#77ac30"]}, "legend": {"orient": "top-right", "rowPadding": 5}}
                      }
                    }
                  ]
                },
                {
                  "width": 293, "height": 230, "data": {"name": "b3"}, "mark": "line",
                  "encoding": {
                    "x": {"field": "x", "type": "quantitative", "scale": {"domain": [0, 100]}, "axis": null},
                    "y": {"field": "y", "type": "quantitative", "scale": {"domain": [0, 100]}, "axis": null},
                    "color": {"field": "s", "type": "nominal", "scale": {"domain": ["AC", "AC - ξ-π", "AC - FOOOF"], "range": ["#000000", "#77ac30", "#edb120"]}, "legend": {"orient": "top-right"}}
                  }
                },
                {
                  "width": 293, "height": 230, "data": {"name": "b4"}, "mark": "line",
                  "encoding": {
                    "x": {"field": "x", "type": "quantitative", "scale": {"domain": [0, 100]}, "axis": null},
                    "y": {"field": "y", "type": "quantitative", "scale": {"domain": [0, 100]}, "axis": null},
                    "color": {"field": "s", "type": "nominal", "scale": {"domain": ["PC", "PC - ξ-π", "PC - FOOOF"], "range": ["#000000", "#77ac30", "#edb120"]}, "legend": {"orient": "top-right"}}
                  }
                }
              ]
            }
          ]
        },
        {
          "width": 1271, "height": 34, "view": {"stroke": null},
          "data": {"name": "rule2"},
          "mark": {"type": "rule", "color": "#222222", "strokeWidth": 1.5, "strokeDash": [13, 7]},
          "encoding": {
            "x": {"field": "a", "type": "quantitative", "scale": {"domain": [0, 1]}, "axis": null},
            "x2": {"field": "b"},
            "y": {"field": "c", "type": "quantitative", "scale": {"domain": [0, 1]}, "axis": null}
          }
        },
        {
          "title": {"text": "(c)", "anchor": "start", "fontWeight": "normal", "fontSize": 24, "dx": 5, "dy": 27},
          "resolve": {"scale": {"color": "independent", "x": "independent", "y": "independent"}, "legend": {"color": "independent"}},
          "vconcat": [
            {
              "title": {"text": "Concave upward", "anchor": "start", "fontWeight": "bold", "dx": 53, "offset": 11},
              "spacing": 15,
              "resolve": {"scale": {"color": "independent", "x": "independent", "y": "independent"}, "legend": {"color": "independent"}},
              "hconcat": [
                {"width": 9, "height": 10, "view": {"stroke": null}, "data": {"name": "none"}, "mark": "point"},
                {
                  "spacing": 16,
                  "resolve": {"scale": {"color": "independent", "x": "independent", "y": "independent"}, "legend": {"color": "independent"}},
                  "hconcat": [
                    {
                      "width": 293, "height": 231, "data": {"name": "c1"}, "mark": "line",
                      "encoding": {
                        "x": {"field": "x", "type": "quantitative", "scale": {"domain": [0, 100]}, "axis": null},
                        "y": {"field": "y", "type": "quantitative", "scale": {"domain": [0, 100]}, "axis": null},
                        "color": {"field": "s", "type": "nominal", "scale": {"domain": ["Spt", "ξ-π AC", "ξ-π PC₁"], "range": ["#000000", "#ff0000", "#0000ff"]}, "legend": {"orient": "top-right", "rowPadding": 3}}
                      }
                    },
                    {
                      "width": 293, "height": 231, "data": {"name": "c2"}, "mark": "line",
                      "encoding": {
                        "x": {"field": "x", "type": "quantitative", "scale": {"domain": [0, 100]}, "axis": null},
                        "y": {"field": "y", "type": "quantitative", "scale": {"domain": [0, 100]}, "axis": null},
                        "color": {"field": "s", "type": "nominal", "scale": {"domain": ["Spt", "FOOOF AC", "FOOOF PC₁"], "range": ["#000000", "#ff0000", "#0000ff"]}, "legend": {"orient": "top-right", "rowPadding": 3}}
                      }
                    }
                  ]
                },
                {
                  "width": 293, "height": 231, "data": {"name": "c3"}, "mark": "line",
                  "encoding": {
                    "x": {"field": "x", "type": "quantitative", "scale": {"domain": [0, 100]}, "axis": null},
                    "y": {"field": "y", "type": "quantitative", "scale": {"domain": [0, 100]}, "axis": null},
                    "color": {"field": "s", "type": "nominal", "scale": {"domain": ["AC", "AC - ξ-π", "AC - FOOOF"], "range": ["#000000", "#77ac30", "#edb120"]}, "legend": {"orient": "top-right"}}
                  }
                },
                {
                  "width": 293, "height": 231, "data": {"name": "c4"}, "mark": "line",
                  "encoding": {
                    "x": {"field": "x", "type": "quantitative", "scale": {"domain": [0, 100]}, "axis": null},
                    "y": {"field": "y", "type": "quantitative", "scale": {"domain": [0, 100]}, "axis": null},
                    "color": {"field": "s", "type": "nominal", "scale": {"domain": ["PC", "PC - ξ-π", "PC - FOOOF"], "range": ["#000000", "#77ac30", "#edb120"]}, "legend": {"orient": "top-right"}}
                  }
                }
              ]
            }
          ]
        }
      ]
    }
  ],
  "spacing": 2
}
